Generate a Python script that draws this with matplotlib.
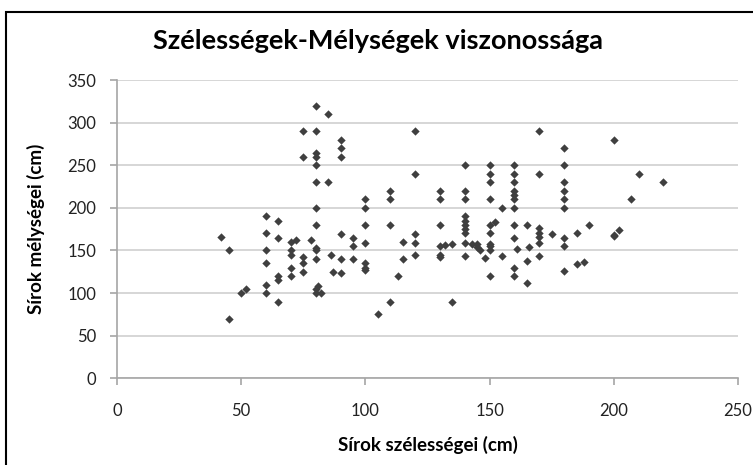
import numpy as np
import matplotlib.pyplot as plt
from matplotlib.patches import Rectangle

plt.rcParams['font.family'] = ['Lato', 'DejaVu Sans']

# grave widths (cm) and matching depths (cm)
widths = [42, 45, 45, 50, 52,
          60, 60, 60, 60, 60, 60,
          65, 65, 65, 65, 65,
          70, 70, 70, 70, 70, 72,
          75, 75, 75, 75, 75, 78,
          80, 80, 80, 80, 80, 80, 80, 80, 80, 80, 80, 80, 81, 80, 82,
          85, 85, 86, 87,
          90, 90, 90, 90, 90, 90,
          95, 95, 95,
          100, 100, 100, 100, 100, 100, 100,
          105, 110, 110, 110, 110, 113, 115, 115,
          120, 120, 120, 120, 120,
          130, 130, 130, 130, 130, 130, 132, 135, 135,
          140, 140, 140, 140, 140, 140, 140, 140, 140, 140,
          143, 145, 145, 146, 148,
          150, 150, 150, 150, 150, 150, 150, 150, 150, 150,
          152, 155, 155,
          160, 160, 160, 160, 160, 160, 160, 160, 160, 160, 160, 161,
          165, 165, 165, 166,
          170, 170, 170, 170, 170, 170, 170, 175,
          180, 180, 180, 180, 180, 180, 180, 180, 180,
          185, 185, 188, 190, 200, 200, 200, 202, 207, 210, 220]
depths = [166, 150, 70, 100, 105,
          190, 170, 150, 135, 110, 100,
          185, 165, 120, 115, 90,
          160, 150, 145, 130, 120, 162,
          290, 260, 142, 135, 125, 162,
          320, 290, 265, 260, 250, 230, 200, 180, 153, 150, 140, 105, 108, 100, 100,
          310, 230, 145, 125,
          280, 270, 260, 169, 140, 123,
          165, 155, 140,
          210, 200, 180, 159, 135, 130, 127,
          75, 220, 210, 180, 90, 120, 160, 140,
          290, 240, 169, 159, 145,
          220, 210, 180, 155, 145, 142, 156, 158, 90,
          250, 220, 210, 190, 185, 180, 175, 170, 159, 144,
          158, 158, 154, 150, 141,
          250, 240, 230, 210, 180, 170, 158, 155, 151, 120,
          184, 200, 144,
          250, 240, 230, 220, 215, 210, 200, 180, 165, 130, 120, 152,
          180, 138, 112, 154,
          290, 240, 176, 170, 166, 159, 144, 169,
          270, 250, 230, 220, 210, 200, 165, 155, 126,
          170, 134, 136, 180, 280, 168, 167, 174, 210, 240, 230]

x_ticks = [0, 50, 100, 150, 200, 250]
y_ticks = [0, 50, 100, 150, 200, 250, 300, 350]

fig = plt.figure(figsize=(7.53, 4.65), dpi=100)
ax = fig.add_axes([0.1554, 0.1865, 0.8247, 0.6412])

ax.scatter(widths, depths, marker='D', s=18, color='#3f3f3f', linewidths=0, zorder=3)

ax.set_xlim(0, 250)
ax.set_ylim(0, 350)
ax.set_xticks(x_ticks)
ax.set_yticks(y_ticks)
ax.grid(axis='y', color='#d0d0d0', linewidth=1.2)
ax.set_axisbelow(True)
for s in ['top', 'right']:
    ax.spines[s].set_visible(False)
for s in ['left', 'bottom']:
    ax.spines[s].set_color('#a6a6a6')
    ax.spines[s].set_linewidth(1.2)
ax.tick_params(axis='both', colors='#a6a6a6', labelcolor='#222222',
               labelsize=12, length=5, width=1.2)
ax.tick_params(axis='x', pad=13)
ax.tick_params(axis='y', pad=10)

ax.set_xlabel('Sírok szélességei (cm)', fontsize=13.5, fontweight='bold', labelpad=12)
ax.set_ylabel('Sírok mélységei (cm)', fontsize=13.5, fontweight='bold', labelpad=16)
fig.text(0.502, 0.912, 'Szélességek-Mélységek viszonossága', ha='center', va='center',
         fontsize=19.5, fontweight='bold')

# chart frame (only left and top edges fall inside the picture)
fig.patches.append(Rectangle((6 / 753, -0.1), 1.2, 1.1 - 12 / 465, transform=fig.transFigure,
                             fill=False, edgecolor='black', linewidth=1.5))

fig.savefig('out.png', dpi=100)
